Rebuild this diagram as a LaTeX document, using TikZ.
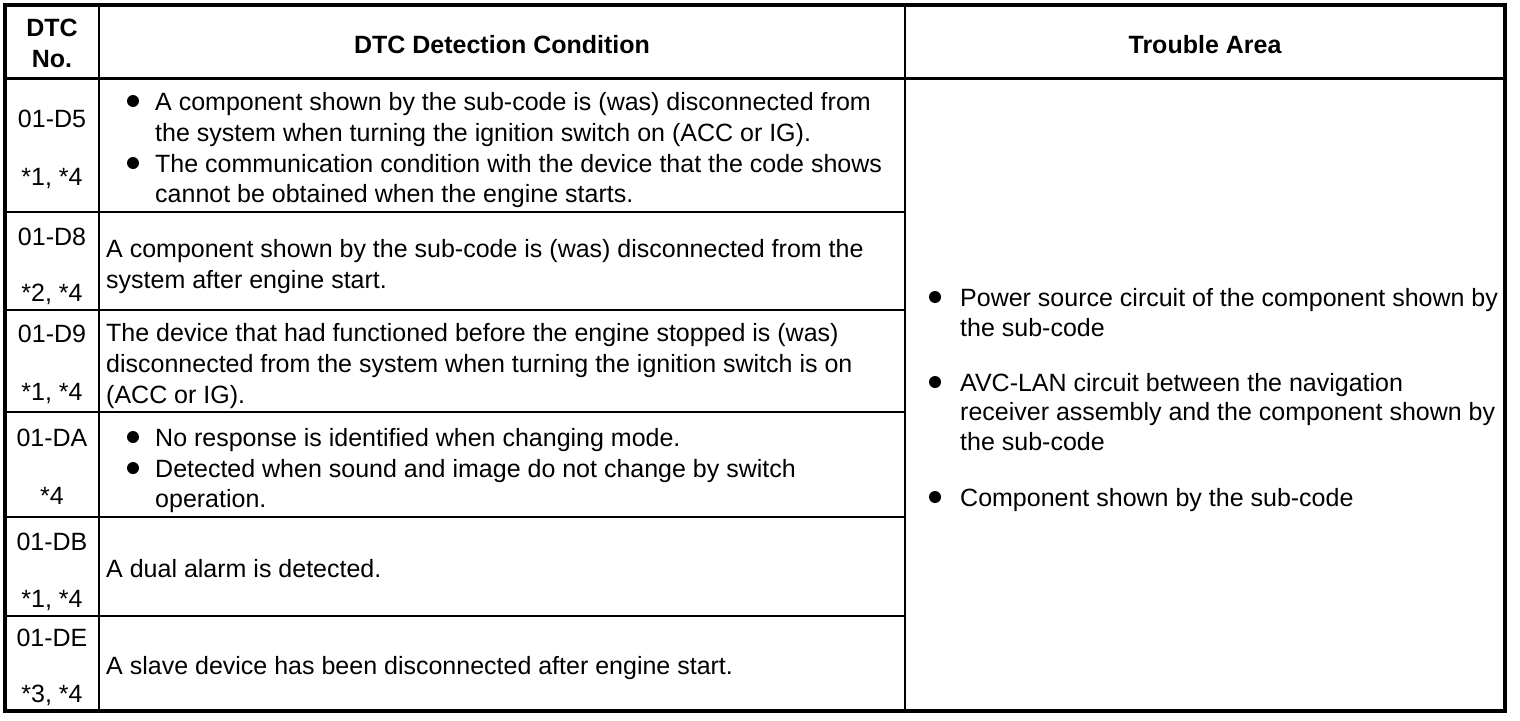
\documentclass[tikz,border=0pt]{standalone}
\usepackage{fontspec}
\setmainfont{Liberation Sans}
\begin{document}
\begin{tikzpicture}[x=1pt,y=-1pt,
  txt/.style={inner sep=0pt, font=\fontsize{25}{30}\selectfont},
  hdr/.style={inner sep=0pt, font=\fontsize{25}{30}\selectfont\bfseries},
  dot/.style={circle, fill=black, inner sep=0pt, minimum size=12pt},
  outer/.style={line width=3.5pt},
  inner/.style={line width=2pt}]
\useasboundingbox (0,0) rectangle (1520,720);
\fill[white] (0,0) rectangle (1520,720);
% grid
\draw[inner] (99,5) -- (99,711);
\draw[inner] (905,5) -- (905,711);
\draw[line width=3pt] (5,78) -- (1505,78);
\foreach \yy in {212,310,412,517,616} \draw[inner] (5,\yy) -- (905,\yy);
\draw[outer] (5,5) rectangle (1505,711);
% header
\node[hdr,anchor=base] (h1a) at (52,36) {DTC};
\node[hdr,anchor=base] (h1b) at (52,67) {No.};
\node[hdr,anchor=base] (h2) at (502,53) {DTC Detection Condition};
\node[hdr,anchor=base] (h3) at (1205,53) {Trouble Area};
% column 1
\node[txt,anchor=base] (c1) at (52,127) {01-D5};
\node[txt,anchor=base] (c1n) at (52,185) {*1, *4};
\node[txt,anchor=base] (c2) at (52,245) {01-D8};
\node[txt,anchor=base] (c2n) at (52,301) {*2, *4};
\node[txt,anchor=base] (c3) at (52,342) {01-D9};
\node[txt,anchor=base] (c3n) at (52,400) {*1, *4};
\node[txt,anchor=base] (c4) at (52,446) {01-DA};
\node[txt,anchor=base] (c4n) at (52,504) {*4};
\node[txt,anchor=base] (c5) at (52,550) {01-DB};
\node[txt,anchor=base] (c5n) at (52,607) {*1, *4};
\node[txt,anchor=base] (c6) at (52,646) {01-DE};
\node[txt,anchor=base] (c6n) at (52,702) {*3, *4};
% column 2
\node[dot] (b1) at (133,101) {};
\node[txt,anchor=base west] (d1a) at (155,110) {A component shown by the sub-code is (was) disconnected from};
\node[txt,anchor=base west] (d1b) at (155,141) {the system when turning the ignition switch on (ACC or IG).};
\node[dot] (b2) at (133,163) {};
\node[txt,anchor=base west] (d1c) at (155,172) {The communication condition with the device that the code shows};
\node[txt,anchor=base west] (d1d) at (155,202) {cannot be obtained when the engine starts.};
\node[txt,anchor=base west] (d2a) at (106,257) {A component shown by the sub-code is (was) disconnected from the};
\node[txt,anchor=base west] (d2b) at (106,288) {system after engine start.};
\node[txt,anchor=base west] (d3a) at (106,341) {The device that had functioned before the engine stopped is (was)};
\node[txt,anchor=base west] (d3b) at (106,372) {disconnected from the system when turning the ignition switch is on};
\node[txt,anchor=base west] (d3c) at (106,403) {(ACC or IG).};
\node[dot] (b3) at (133,437) {};
\node[txt,anchor=base west] (d4a) at (155,446) {No response is identified when changing mode.};
\node[dot] (b4) at (133,468) {};
\node[txt,anchor=base west] (d4b) at (155,477) {Detected when sound and image do not change by switch};
\node[txt,anchor=base west] (d4c) at (155,507) {operation.};
\node[txt,anchor=base west] (d5) at (106,577) {A dual alarm is detected.};
\node[txt,anchor=base west] (d6) at (106,674) {A slave device has been disconnected after engine start.};
% column 3
\node[dot] (b5) at (935,297) {};
\node[txt,anchor=base west] (t1a) at (960,306) {Power source circuit of the component shown by};
\node[txt,anchor=base west] (t1b) at (960,336) {the sub-code};
\node[dot] (b6) at (935,382) {};
\node[txt,anchor=base west] (t2a) at (960,391) {AVC-LAN circuit between the navigation};
\node[txt,anchor=base west] (t2b) at (960,420) {receiver assembly and the component shown by};
\node[txt,anchor=base west] (t2c) at (960,450) {the sub-code};
\node[dot] (b7) at (935,497) {};
\node[txt,anchor=base west] (t3) at (960,506) {Component shown by the sub-code};
\end{tikzpicture}
\end{document}
